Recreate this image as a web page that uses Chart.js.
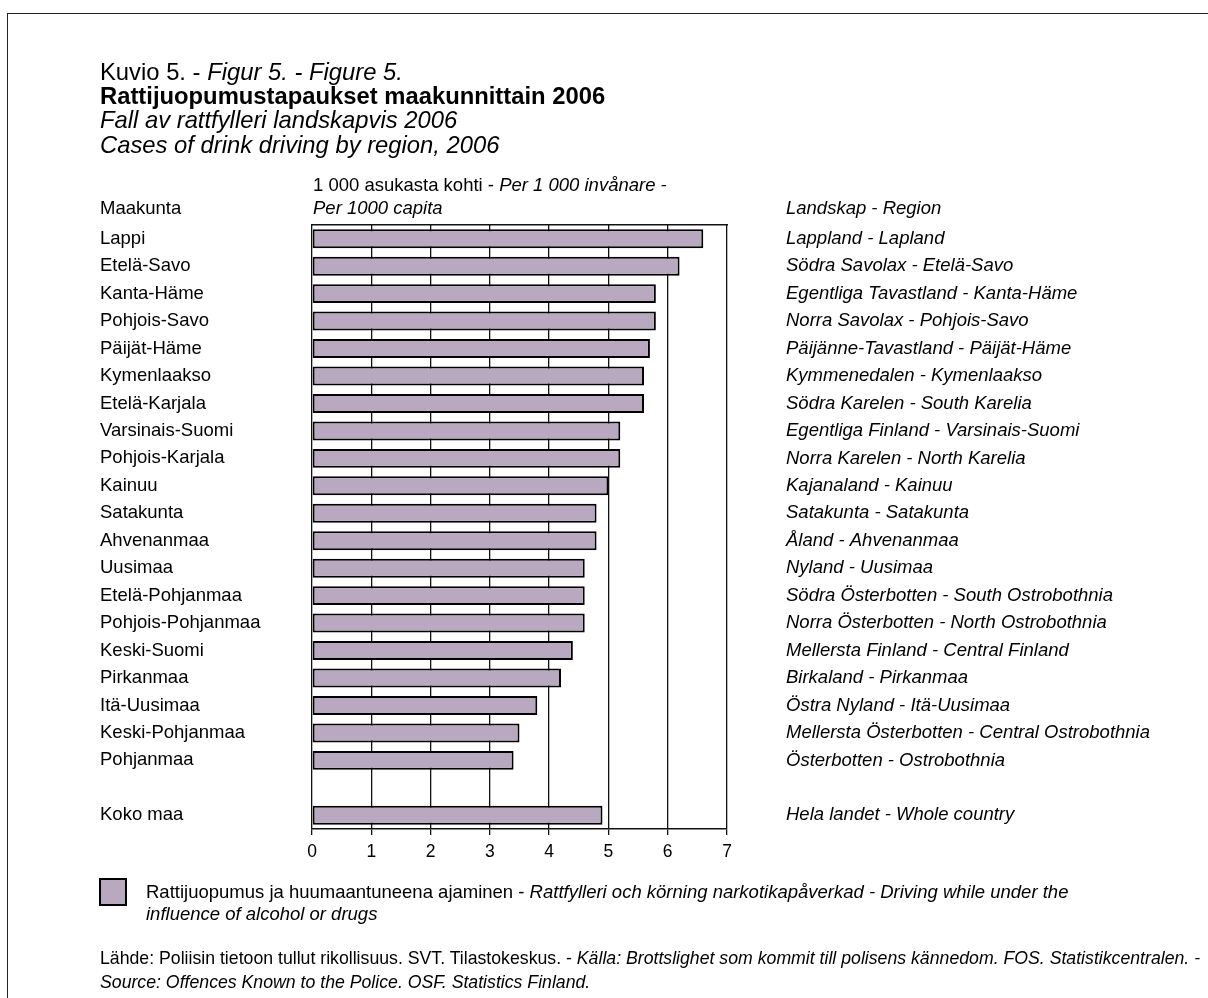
<!DOCTYPE html>
<html>
<head>
<meta charset="utf-8">
<script src="https://cdn.jsdelivr.net/npm/chart.js@4/dist/chart.umd.min.js"></script>
<style>
  html, body { margin: 0; padding: 0; background: #fff; }
  body { width: 1208px; height: 998px; position: relative; overflow: hidden;
         font-family: "Liberation Sans", Arial, Helvetica, sans-serif; color: #000; }
  #frame { position: absolute; left: 7px; top: 13px; width: 1300px; height: 1100px;
           border-left: 1.5px solid #222; border-top: 1.5px solid #222; }
  #cv { position: absolute; left: 0; top: 0; }
  .t { position: absolute; white-space: nowrap; line-height: 22px; font-size: 18.5px; }
  .ttl { font-size: 23.8px; line-height: 24px; }
  .src { font-size: 17.7px; line-height: 22px; }
  i { font-style: italic; }
  #legbox { position: absolute; left: 99px; top: 878px; width: 24px; height: 24px;
            border: 2px solid #000; background: #b8a9c0; }
</style>
</head>
<body>
<div id="frame"></div>
<canvas id="cv" width="1208" height="998"></canvas>

<div class="t ttl" style="left:100px; top:60px;">Kuvio 5. - <i>Figur 5. - Figure 5.</i></div>
<div class="t ttl" style="left:100px; top:84px; font-weight:bold;">Rattijuopumustapaukset maakunnittain 2006</div>
<div class="t ttl" style="left:100px; top:108px;"><i>Fall av rattfylleri landskapvis 2006</i></div>
<div class="t ttl" style="left:100px; top:133px;"><i>Cases of drink driving by region, 2006</i></div>

<div class="t" style="left:313px; top:174px;">1 000 asukasta kohti - <i>Per 1 000 invånare -</i></div>
<div class="t" style="left:313px; top:197px;"><i>Per 1000 capita</i></div>
<div class="t" style="left:100px; top:197px;">Maakunta</div>
<div class="t" style="left:786px; top:197px;"><i>Landskap - Region</i></div>

<div id="legbox"></div>
<div class="t" style="left:146px; top:881px;">Rattijuopumus ja huumaantuneena ajaminen - <i>Rattfylleri och körning narkotikapåverkad - Driving while under the</i></div>
<div class="t" style="left:146px; top:903px;"><i>influence of alcohol or drugs</i></div>

<div class="t src" style="left:100px; top:947px;">Lähde: Poliisin tietoon tullut rikollisuus. SVT. Tilastokeskus. - <i>Källa: Brottslighet som kommit till polisens kännedom. FOS. Statistikcentralen. -</i></div>
<div class="t src" style="left:100px; top:971px;"><i>Source: Offences Known to the Police. OSF. Statistics Finland.</i></div>

<script>
const regionsFi = ['Lappi','Etelä-Savo','Kanta-Häme','Pohjois-Savo','Päijät-Häme','Kymenlaakso','Etelä-Karjala','Varsinais-Suomi','Pohjois-Karjala','Kainuu','Satakunta','Ahvenanmaa','Uusimaa','Etelä-Pohjanmaa','Pohjois-Pohjanmaa','Keski-Suomi','Pirkanmaa','Itä-Uusimaa','Keski-Pohjanmaa','Pohjanmaa','','Koko maa'];
const regionsSvEn = ['Lappland - Lapland','Södra Savolax - Etelä-Savo','Egentliga Tavastland - Kanta-Häme','Norra Savolax - Pohjois-Savo','Päijänne-Tavastland - Päijät-Häme','Kymmenedalen - Kymenlaakso','Södra Karelen - South Karelia','Egentliga Finland - Varsinais-Suomi','Norra Karelen - North Karelia','Kajanaland - Kainuu','Satakunta - Satakunta','Åland - Ahvenanmaa','Nyland - Uusimaa','Södra Österbotten - South Ostrobothnia','Norra Österbotten - North Ostrobothnia','Mellersta Finland - Central Finland','Birkaland - Pirkanmaa','Östra Nyland - Itä-Uusimaa','Mellersta Österbotten - Central Ostrobothnia','Österbotten - Ostrobothnia','','Hela landet - Whole country'];
const casesPer1000 = [6.6,6.2,5.8,5.8,5.7,5.6,5.6,5.2,5.2,5.0,4.8,4.8,4.6,4.6,4.6,4.4,4.2,3.8,3.5,3.4,null,4.9];
const xMin = 0;
const xMax = 7;
const seriesLabel = 'Rattijuopumus ja huumaantuneena ajaminen';

const FONT = '"Liberation Sans", Arial, Helvetica, sans-serif';
const BAR_FILL = '#b8a9c0';

new Chart(document.getElementById('cv'), {
  type: 'bar',
  data: {
    labels: regionsFi,
    datasets: [{
      label: seriesLabel,
      data: casesPer1000,
      backgroundColor: BAR_FILL,
      borderColor: '#000',
      borderWidth: 2,
      borderSkipped: false,
      barPercentage: 0.69,
      categoryPercentage: 1.0,
      yAxisID: 'y',
      xAxisID: 'x'
    }]
  },
  options: {
    indexAxis: 'y',
    responsive: false,
    animation: false,
    events: [],
    layout: { padding: { left: 100, right: 0, top: 225, bottom: 119 } },
    plugins: { legend: { display: false }, tooltip: { enabled: false }, title: { display: false } },
    scales: {
      x: {
        type: 'linear',
        position: 'bottom',
        min: xMin, max: xMax,
        z: 1,
        ticks: { stepSize: 1, color: '#000', padding: 7, font: { family: FONT, size: 17.5 } },
        grid: { color: '#111', lineWidth: 1.3, drawTicks: true, tickLength: 6, tickColor: '#111', tickWidth: 1.3 },
        border: { display: true, color: '#111', width: 1.6 },
        afterFit: s => { s.height = 50; }
      },
      x2: {
        type: 'linear',
        position: 'top',
        min: xMin, max: xMax,
        z: 1,
        ticks: { display: false },
        grid: { display: false, drawTicks: false },
        border: { display: true, color: '#111', width: 1.6 },
        afterFit: s => { s.height = 0; }
      },
      y: {
        type: 'category',
        position: 'left',
        offset: true,
        grid: { display: false, drawTicks: false },
        border: { display: false },
        ticks: { autoSkip: false, color: '#000', crossAlign: 'far', font: { family: FONT, size: 18.5 } },
        afterFit: s => { s.width = 212; }
      },
      y2: {
        type: 'category',
        position: 'right',
        labels: regionsSvEn,
        offset: true,
        grid: { display: false, drawTicks: false },
        border: { display: false },
        ticks: { autoSkip: false, color: '#000', crossAlign: 'near', padding: 59, font: { family: FONT, size: 18.5, style: 'italic' } },
        afterFit: s => { s.width = 481; }
      }
    }
  }
});
</script>
</body>
</html>
